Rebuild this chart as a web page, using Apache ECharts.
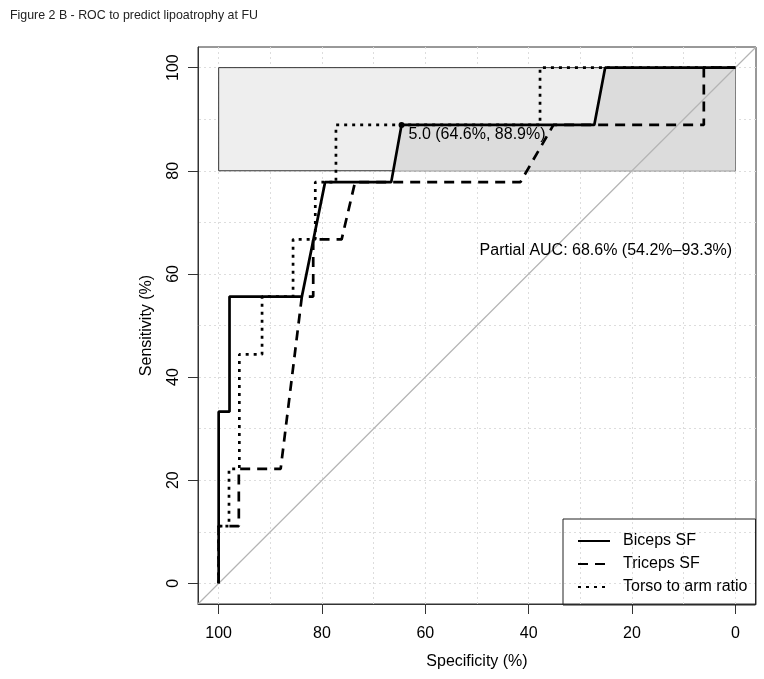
<!DOCTYPE html>
<html>
<head>
<meta charset="utf-8">
<script src="https://cdn.jsdelivr.net/npm/echarts@6/dist/echarts.min.js"></script>
<style>
  html, body { margin: 0; padding: 0; background: #fff; }
  #chart { width: 764px; height: 679px; }
</style>
</head>
<body>
<div id="chart"></div>
<script>
// ---- data ----
const figureTitle = 'Figure 2 B - ROC to predict lipoatrophy at FU';
const xTicks = [100, 80, 60, 40, 20, 0];
const yTicks = [0, 20, 40, 60, 80, 100];
const gridValues = [0, 10, 20, 30, 40, 50, 60, 70, 80, 90, 100];
const axisRange = [-4, 104];

const seriesNames = ['Biceps SF', 'Triceps SF', 'Torso to arm ratio'];
const bicepsSpec = [100, 100, 97.9, 97.9, 83.9, 79.4, 66.6, 64.6, 27.3, 25.2, 0];
const bicepsSens = [0, 33.3, 33.3, 55.6, 55.6, 77.8, 77.8, 88.9, 88.9, 100, 100];
const tricepsSpec = [100, 100, 96.1, 96.1, 88.0, 83.9, 81.7, 81.7, 76.2, 73.6, 41.6, 35.2, 6.1, 6.1, 0];
const tricepsSens = [0, 11.1, 11.1, 22.2, 22.2, 55.6, 55.6, 66.7, 66.7, 77.8, 77.8, 88.9, 88.9, 100, 100];
const torsoSpec = [100, 100, 98.0, 98.0, 96.0, 96.0, 91.6, 91.6, 85.6, 85.6, 81.3, 81.3, 77.3, 77.3, 37.8, 37.8, 0];
const torsoSens = [0, 11.1, 11.1, 22.2, 22.2, 44.4, 44.4, 55.6, 55.6, 66.7, 66.7, 77.8, 77.8, 88.9, 88.9, 100, 100];

const refSpec = [104, -4];
const refSens = [-4, 104];

const focusSens = [80, 100];           // partial AUC focus (sensitivity)
const focusSpec = [100, 0];

const thresholdValue = '5.0';
const thresholdSpec = 64.6;
const thresholdSens = 88.9;

const aucText = 'Partial AUC: 68.6% (54.2%\u201393.3%)';
const aucTextPos = [49.5, 64.6];

// ---- helpers ----
const pairs = (xs, ys) => xs.map((x, i) => [x, ys[i]]);

function focusPolygon(spec, sens, lo, hi) {
  const pts = [];
  for (let i = 0; i < spec.length; i++) {
    if (i > 0 && sens[i - 1] < lo && sens[i] >= lo) {
      const t = (lo - sens[i - 1]) / (sens[i] - sens[i - 1]);
      pts.push([spec[i - 1] + t * (spec[i] - spec[i - 1]), lo]);
    }
    if (sens[i] >= lo) pts.push([spec[i], sens[i]]);
  }
  const last = pts[pts.length - 1];
  if (!(last[0] === focusSpec[1] && last[1] === hi)) pts.push([focusSpec[1], hi]);
  pts.push([focusSpec[1], lo]);
  return pts;
}
const aucPoly = focusPolygon(bicepsSpec, bicepsSens, focusSens[0], focusSens[1]);

const FONT = "'Liberation Sans', Arial, Helvetica, sans-serif";
const curveWidth = 2.7;
const FS = 16;

const chart = echarts.init(document.getElementById('chart'), null, { renderer: 'canvas' });

const option = {
  animation: false,
  backgroundColor: '#fff',
  textStyle: { fontFamily: FONT },
  title: {
    text: figureTitle,
    left: 5, top: 5,
    textStyle: { fontSize: 12.4, fontWeight: 'normal', color: '#222', fontFamily: FONT }
  },
  grid: {
    left: 198, top: 47, width: 558, height: 557,
    show: true, borderColor: '#333', borderWidth: 1, backgroundColor: 'transparent'
  },
  xAxis: {
    type: 'value', min: axisRange[0], max: axisRange[1], inverse: true,
    name: 'Specificity (%)', nameLocation: 'middle', nameGap: 50,
    nameTextStyle: { fontSize: FS, color: '#000', fontFamily: FONT },
    axisLine: { show: true, onZero: false, lineStyle: { color: '#333', width: 1 } },
    axisTick: { show: true, customValues: xTicks, length: 10, lineStyle: { color: '#333', width: 1 } },
    axisLabel: { customValues: xTicks, margin: 22, fontSize: FS, color: '#000', fontFamily: FONT },
    splitLine: { show: false }
  },
  yAxis: {
    type: 'value', min: axisRange[0], max: axisRange[1],
    name: 'Sensitivity (%)', nameLocation: 'middle', nameGap: 43,
    nameTextStyle: { fontSize: FS, color: '#000', fontFamily: FONT },
    axisLine: { show: true, onZero: false, lineStyle: { color: '#333', width: 1 } },
    axisTick: { show: true, customValues: yTicks, length: 10, lineStyle: { color: '#333', width: 1 } },
    axisLabel: { customValues: yTicks, margin: 16, rotate: 90, fontSize: FS, color: '#000', fontFamily: FONT },
    splitLine: { show: false }
  },
  legend: {
    data: seriesNames,
    orient: 'vertical',
    left: 563, top: 519,
    padding: [14, 8, 10, 14],
    itemWidth: 32, itemHeight: 14, itemGap: 7,
    borderColor: '#222', borderWidth: 1, borderRadius: 0,
    backgroundColor: 'transparent',
    itemStyle: { opacity: 0 },
    textStyle: { fontSize: FS, color: '#000', fontFamily: FONT, padding: [0, 0, 0, 8] },
    selectedMode: false
  },
  series: [
    {
      name: 'grid', type: 'scatter', data: [], silent: true, z: 1,
      markLine: {
        silent: true, symbol: 'none', animation: false, z: 1,
        label: { show: false },
        lineStyle: { color: '#dddddd', width: 1, type: [2, 3] },
        emphasis: { disabled: true },
        data: gridValues.map(v => ({ xAxis: v })).concat(gridValues.map(v => ({ yAxis: v })))
      }
    },
    {
      name: 'maxauc', type: 'scatter', data: [], silent: true, z: 2,
      markArea: {
        silent: true, z: 2,
        itemStyle: { color: '#eeeeee', borderColor: '#333', borderWidth: 1, opacity: 1 },
        emphasis: { disabled: true },
        data: [[{ coord: [focusSpec[0], focusSens[0]] }, { coord: [focusSpec[1], focusSens[1]] }]]
      }
    },
    {
      name: 'aucpoly', type: 'custom', silent: true, z: 3,
      data: [[0, 0]],
      renderItem: function (params, api) {
        return {
          type: 'polygon',
          shape: { points: aucPoly.map(p => api.coord(p)) },
          style: { fill: '#dcdcdc', stroke: null }
        };
      }
    },
    {
      name: 'identity', type: 'line', data: pairs(refSpec, refSens), silent: true, z: 4,
      symbol: 'none', clip: true,
      lineStyle: { color: '#b4b4b4', width: 1.2 }
    },
    {
      name: seriesNames[0], type: 'line', data: pairs(bicepsSpec, bicepsSens), z: 6,
      symbol: 'none', silent: true,
      lineStyle: { color: '#000', width: curveWidth, type: 'solid' },
      itemStyle: { color: '#000' }
    },
    {
      name: seriesNames[1], type: 'line', data: pairs(tricepsSpec, tricepsSens), z: 5,
      symbol: 'none', silent: true,
      lineStyle: { color: '#000', width: curveWidth, type: [10, 7] },
      itemStyle: { color: '#000' }
    },
    {
      name: seriesNames[2], type: 'line', data: pairs(torsoSpec, torsoSens), z: 5,
      symbol: 'none', silent: true,
      lineStyle: { color: '#000', width: curveWidth, type: [3, 5] },
      itemStyle: { color: '#000' }
    },
    {
      name: 'threshold', type: 'scatter', z: 7, silent: true,
      data: [[thresholdSpec, thresholdSens]],
      symbol: 'circle', symbolSize: 6,
      itemStyle: { color: '#000', opacity: 1 },
      label: {
        show: true, position: 'right', distance: 4, offset: [0, 10],
        formatter: () => thresholdValue + ' (' + thresholdSpec.toFixed(1) + '%, ' + thresholdSens.toFixed(1) + '%)',
        fontSize: FS, color: '#000', opacity: 1, fontFamily: FONT
      }
    },
    {
      name: 'auctext', type: 'scatter', z: 7, silent: true,
      data: [aucTextPos],
      symbol: 'circle', symbolSize: 1,
      itemStyle: { color: 'rgba(0,0,0,0)', opacity: 1 },
      label: {
        show: true, position: 'inside', align: 'left', verticalAlign: 'middle',
        formatter: () => aucText,
        fontSize: FS, color: '#000', opacity: 1, fontFamily: FONT
      }
    }
  ]
};

chart.setOption(option);
</script>
</body>
</html>
